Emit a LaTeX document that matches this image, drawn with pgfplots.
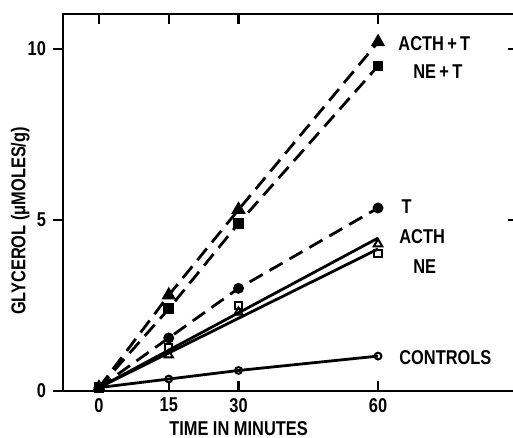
\documentclass[border=0pt]{standalone}
\usepackage{pgfplots}
\pgfplotsset{compat=1.18}
\usepackage{fontspec}
\setmainfont{Liberation Sans}[FakeStretch=0.82]
\begin{document}
\begin{tikzpicture}[x=1pt,y=1pt]
\useasboundingbox (-31.5,-23.5) rectangle (225,195.5);
\pgfplotsset{
  common/.style={
    scale only axis, width=227.5pt, height=188.5pt,
    xmin=-7.74, xmax=90.1, ymin=0, ymax=11.02,
    axis line style={line width=1.2pt},
    major tick length=5pt,
    tick style={line width=1.2pt, black},
    /pgf/number format/assume math mode=true,
    tick label style={font=\fontsize{10}{11}\selectfont\bfseries},
  }
}
\begin{axis}[common,
  clip=false,
  xtick={0,15,30,60}, ytick={0,5,10},
  xtick align=inside,
  ytick pos=left, ytick align=outside,
  xlabel={TIME IN MINUTES},
  xlabel style={font=\fontsize{10}{11}\selectfont\bfseries, at={(axis cs:30,0)}, anchor=north, yshift=-11.5pt},
  ylabel={GLYCEROL ({μ}MOLES/g)},
  ylabel style={font=\fontsize{10}{11}\selectfont\bfseries, at={(rel axis cs:-0.094,0.451)}, anchor=center},
  every axis plot/.append style={line width=1.4pt},
]
% ACTH+T
\addplot[black, dash pattern=on 7.5pt off 4pt, mark=triangle*, mark size=2.8pt, mark options={solid}]
  coordinates {(0,0.1)(15,2.8)(30,5.3)(60,10.2)};
% NE+T
\addplot[black, dash pattern=on 7.5pt off 4pt, mark=square*, mark size=2pt, mark options={solid}]
  coordinates {(0,0.1)(15,2.4)(30,4.9)(60,9.5)};
% T
\addplot[black, dash pattern=on 7.5pt off 4pt, mark=*, mark size=2pt, mark options={solid}]
  coordinates {(0,0.1)(15,1.55)(30,3.0)(60,5.35)};
% ACTH fitted line and points
\addplot[black, solid, no marks] coordinates {(0,0.1)(60,4.47)};
\addplot[black, only marks, mark=triangle, mark size=2.4pt, mark options={fill=white, line width=1pt}]
  coordinates {(0,0.1)(15,1.05)(30,2.3)(60,4.3)};
% NE fitted line and points
\addplot[black, solid, no marks] coordinates {(0,0.1)(60,4.15)};
\addplot[black, only marks, mark=square, mark size=1.8pt, mark options={fill=white, line width=1pt}]
  coordinates {(0,0.1)(15,1.26)(30,2.5)(60,4.03)};
% Controls
\addplot[black, solid, mark=o, mark size=1.7pt, mark options={fill=white, line width=1pt}]
  coordinates {(0,0.1)(15,0.35)(30,0.6)(60,1.02)};

\begin{scope}[every node/.style={anchor=west, inner sep=0pt, font=\fontsize{10}{11}\selectfont\bfseries}]
\node at (axis cs:64.3,10.15) {ACTH\,+\,T};
\node at (axis cs:67.5,9.33) {NE\,+\,T};
\node at (axis cs:65,5.38) {T};
\node at (axis cs:64.5,4.5) {ACTH};
\node at (axis cs:67.5,3.65) {NE};
\node at (axis cs:64.5,0.99) {CONTROLS};
\end{scope}
\end{axis}
\begin{axis}[common,
  axis x line=none, axis y line*=right,
  ytick={5,10}, yticklabels={}, ytick align=inside,
]
\addplot[draw=none] coordinates {(0,0)};
\end{axis}
\end{tikzpicture}
\end{document}
